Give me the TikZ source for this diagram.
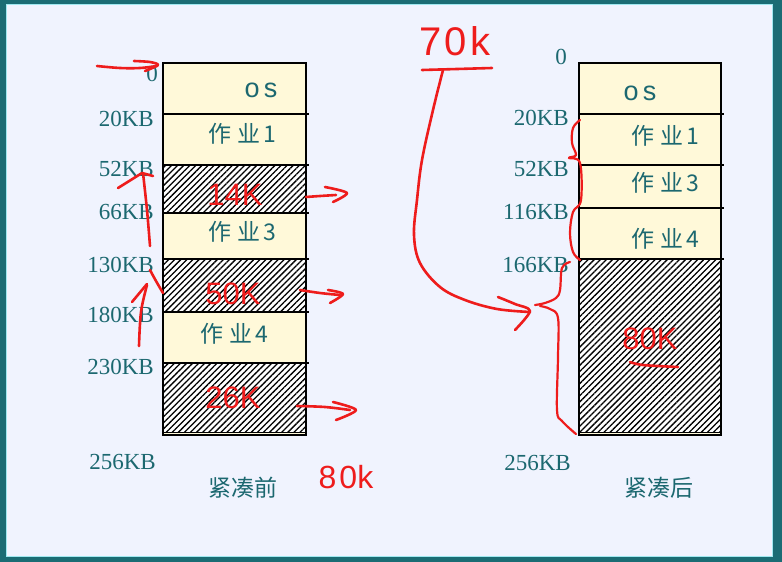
\documentclass[tikz,border=0pt]{standalone}
\usepackage{fontspec}
\setmainfont{Liberation Serif}
\newfontfamily\cjk{Noto Sans CJK SC}
\newfontfamily\arialf{Liberation Sans}
\usetikzlibrary{patterns.meta}
\definecolor{frameteal}{RGB}{27,108,116}
\definecolor{bgc}{RGB}{240,243,254}
\definecolor{rimc}{RGB}{160,232,240}
\definecolor{cream}{RGB}{255,249,217}
\definecolor{labteal}{RGB}{28,104,112}
\definecolor{inkred}{RGB}{238,28,28}
\tikzset{
 addr/.style={anchor=east, text=labteal, font=\fontsize{23}{23}\selectfont, inner sep=0pt},
 job/.style={text=labteal, font=\cjk\fontsize{23}{23}\selectfont, inner sep=0pt},
 ostext/.style={text=labteal, font=\arialf\fontsize{27}{27}\selectfont, inner sep=0pt},
 captext/.style={text=labteal, font=\cjk\fontsize{23}{23}\selectfont, inner sep=0pt},
 redtxt/.style={text=inkred, font=\arialf\fontsize{31}{31}\selectfont, inner sep=0pt},
 handtxt/.style={text=inkred, font=\arialf\fontsize{40}{40}\selectfont, inner sep=0pt},
 ink/.style={draw=inkred, line width=2.6pt, line cap=round, line join=round},
 seg/.style={fill=cream},
 freeblk/.style={preaction={fill=white}, pattern={Lines[angle=45,distance=4.3pt,line width=1.3pt]}, pattern color=black},
 rulel/.style={line width=1.4pt, draw=black}
}
\begin{document}
\begin{tikzpicture}[x=1pt,y=-1pt]
\useasboundingbox (0,0) rectangle (782,562);
% frame
\fill[frameteal] (0,0) rectangle (782,562);
\fill[bgc] (6,4) rectangle (773,557);
\draw[rimc, line width=1pt] (6.5,4.5) rectangle (772.5,556.5);

% ---------- left column ----------
\fill[seg] (163,63) rectangle (306,165);
\fill[seg] (163,213) rectangle (306,259);
\fill[seg] (163,312) rectangle (306,363);
\fill[seg] (163,432) rectangle (306,435);
\path[freeblk] (163,165) rectangle (306,213);
\path[freeblk] (163,259) rectangle (306,312);
\path[freeblk] (163,363) rectangle (306,432);
\draw[rulel] (163,63) rectangle (306,435);
\foreach \yy in {114,165,213,259,312,363} \draw[rulel] (163,\yy) -- (309,\yy);
\draw[line width=0.8pt] (163,432) -- (306,432);

% ---------- right column ----------
\fill[seg] (579,63) rectangle (721,259);
\fill[seg] (579,432) rectangle (721,435);
\path[freeblk] (579,259) rectangle (721,432);
\draw[rulel] (579,63) rectangle (721,435);
\foreach \yy in {114,165,208,259} \draw[rulel] (579,\yy) -- (724,\yy);
\draw[line width=0.8pt] (579,432) -- (721,432);

% ---------- left labels ----------
\node[addr] (l0) at (158,74) {0};
\node[addr] (l20) at (154,119) {20KB};
\node[addr] (l52) at (154,169) {52KB};
\node[addr] (l66) at (154,212) {66KB};
\node[addr] (l130) at (154,265) {130KB};
\node[addr] (l180) at (154,315) {180KB};
\node[addr] (l230) at (154,367) {230KB};
\node[addr] (l256) at (156,462) {256KB};
% ---------- right labels ----------
\node[addr] (r0) at (567,57) {0};
\node[addr] (r20) at (569,118) {20KB};
\node[addr] (r52) at (569,169) {52KB};
\node[addr] (r116) at (569,212) {116KB};
\node[addr] (r166) at (569,265) {166KB};
\node[addr] (r256) at (571,463) {256KB};

% ---------- contents ----------
\node[ostext] (los) at (261,90) {o\hspace{4pt}s};
\node[job] (lj1) at (242,134) {作\hspace{6pt}业\hspace{3pt}1};
\node[job] (lj3) at (242,232) {作\hspace{6pt}业\hspace{3pt}3};
\node[job] (lj4) at (234,334) {作\hspace{6pt}业\hspace{3pt}4};
\node[ostext] (ros) at (640,93) {o\hspace{4pt}s};
\node[job] (rj1) at (665,136) {作\hspace{6pt}业\hspace{3pt}1};
\node[job] (rj3) at (665,183) {作\hspace{6pt}业\hspace{3pt}3};
\node[job] (rj4) at (665,239) {作\hspace{6pt}业\hspace{3pt}4};
\node[captext] (capl) at (243,488) {紧凑前};
\node[captext] (capr) at (659,488) {紧凑后};

% ---------- red annotations ----------
\node[redtxt] (f14) at (235,195) {14K};
\node[redtxt] (f50) at (233,294) {50K};
\node[redtxt] (f26) at (233,398) {26K};
\node[redtxt] (f80) at (650,339) {80K};
\node[handtxt] (t70) at (455,41) {7\hspace{3pt}0\hspace{3pt}k};
\node[handtxt, font=\arialf\fontsize{32}{32}\selectfont] (t80) at (346,477) {8\hspace{3pt}0k};

% top-left arrow
\draw[ink] plot[smooth, tension=0.6] coordinates {(97,66) (120,68) (140,68) (157,66)};
\draw[ink] plot[smooth, tension=0.5] coordinates {(134,61) (150,62) (158,65) (145,71)};
% up arrow near 52KB
\draw[ink] plot[smooth, tension=0.6] coordinates {(150,246) (147,210) (143,173)};
\draw[ink] (118,188) -- (142,173) -- (153,176);
% near 130KB
\draw[ink] plot[smooth, tension=0.6] coordinates {(150,270) (156,281) (163,293)};
\draw[ink] plot[smooth, tension=0.6] coordinates {(139,346) (141,312) (147,285)};
\draw[ink] (132,302) -- (147,284);
% right arrows from free blocks
\draw[ink] plot[smooth, tension=0.6] coordinates {(306,197) (320,196) (336,195)};
\draw[ink] plot[smooth, tension=0.5] coordinates {(325,187) (347,193) (333,202)};
\draw[ink] plot[smooth, tension=0.6] coordinates {(300,290) (320,293) (340,295)};
\draw[ink] plot[smooth, tension=0.5] coordinates {(328,290) (343,294) (330,303)};
\draw[ink] plot[smooth, tension=0.6] coordinates {(297,406) (325,407) (350,410)};
\draw[ink] plot[smooth, tension=0.5] coordinates {(333,402) (356,410) (336,420)};
% 70k underline and curve
\draw[ink] (422,70) -- (492,68);
\draw[ink] plot[smooth, tension=0.6] coordinates {(443,70) (433,110) (422,160) (417,200) (414,235) (420,263) (440,287) (465,300) (497,309) (530,312)};
\draw[ink] plot[smooth, tension=0.5] coordinates {(498,297) (515,304) (530,311) (515,330)};
% upper brace (right)
\draw[ink, line width=2.2pt] plot[smooth, tension=0.6] coordinates {(580,120) (573,128) (572,143) (576,155) (569,158) (580,163) (581,200) (573,212) (570,233) (573,252) (580,260)};
% lower brace (right)
\draw[ink, line width=2.2pt] plot[smooth, tension=0.6] coordinates {(570,262) (562,268) (560,290) (556,298) (545,303) (535,305)};
\draw[ink, line width=2.2pt] plot[smooth, tension=0.6] coordinates {(540,306) (550,309) (558,318) (558,357) (557,410) (562,421) (576,434)};
% 80K underline
\draw[ink] plot[smooth, tension=0.6] coordinates {(630,362) (643,365) (678,367)};
\end{tikzpicture}
\end{document}
